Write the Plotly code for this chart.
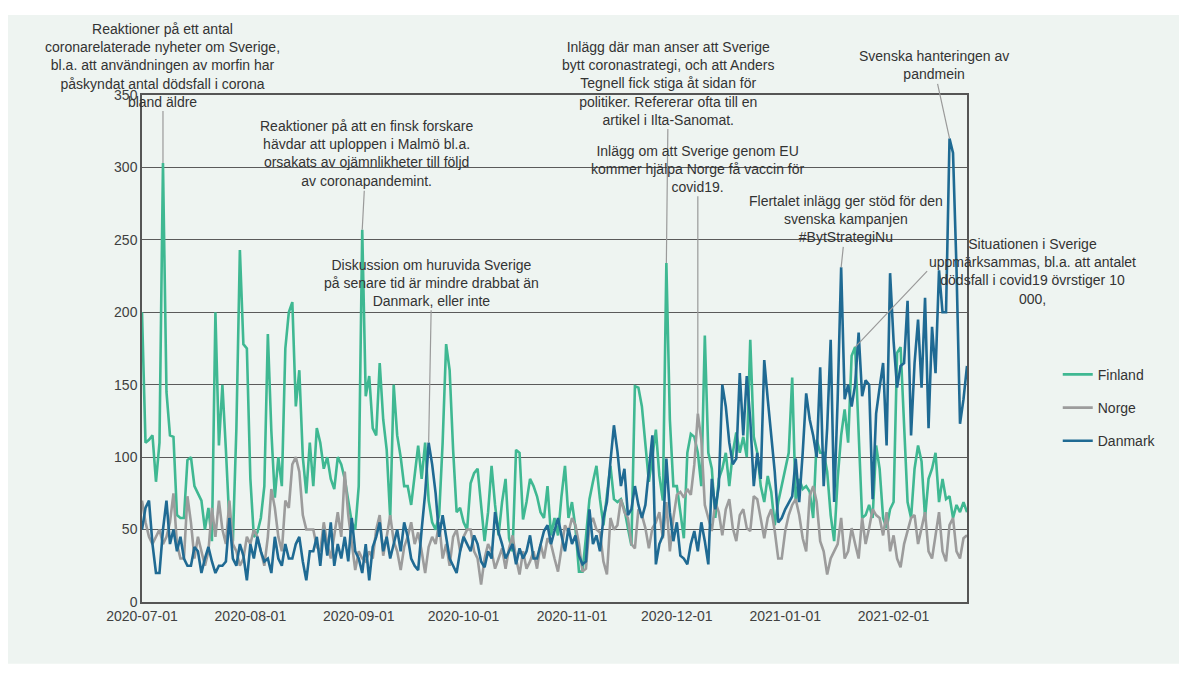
import pandas as pd
import plotly.graph_objects as go

START_DATE = "2020-07-01"

finland = [
    200, 110, 112, 115, 83, 110, 303, 145, 115, 114,
    60, 58, 58, 98, 100, 80, 75, 70, 50, 65,
    42, 200, 108, 150, 105, 55, 42, 120, 243, 178,
    175, 85, 45, 48, 58, 80, 185, 118, 72, 100,
    80, 175, 200, 207, 135, 160, 100, 75, 110,
    80, 120, 110, 92, 100, 85, 78, 100, 95, 85,
    70, 55, 50, 80, 257, 142, 156, 120, 115, 165,
    126, 105, 58, 150, 115, 100, 80, 80, 67, 88,
    108, 85, 110, 70, 55, 50, 60, 110, 178, 160,
    105, 62, 65, 55, 50,
    82, 89, 92, 69, 42, 62, 94, 67, 46, 69,
    85, 44, 35, 105, 103, 57, 69, 85, 80, 73,
    62, 58, 80, 46, 58, 46, 73, 94, 58, 69,
    51, 21, 21, 45, 71, 83, 94, 71, 53, 74,
    94, 71, 69, 71, 64, 51, 39,
    149, 148, 135, 108, 83, 100, 119, 87, 70, 234,
    126, 80, 80, 62, 44, 103, 116, 114, 103, 80,
    184, 103, 92, 58, 85, 92, 103, 80, 103, 117,
    103, 114, 100, 181, 114, 103, 80, 69, 87, 76,
    53, 69, 80, 92, 103, 155, 69, 85,
    78, 80, 76, 58, 112, 103, 103, 90, 60, 42,
    85, 115, 133, 110, 170, 176, 115, 58, 60, 67,
    58, 108, 92, 58, 51, 64, 69, 172, 176, 126,
    69, 58, 92, 108, 97, 58, 85, 92, 103, 69,
    85, 71, 73, 58, 67, 62, 69, 62,
]

norge = [
    70, 55, 45, 40, 45, 50, 40, 45, 55, 75,
    40, 30, 30, 73, 55, 30, 45, 35, 25, 35,
    65, 45, 70, 50, 40, 70, 40, 35, 25, 30,
    45, 40, 50, 45, 35, 25, 45, 78, 65, 45,
    35, 70, 65, 95, 100, 90, 60, 50, 50,
    50, 38, 35, 55, 40, 30, 45, 62, 45, 90,
    60, 40, 22, 35, 30, 28, 35, 30, 50, 60,
    32, 45, 60, 42, 35, 22, 38, 45, 55, 40,
    48, 35, 20, 38, 45, 40, 55, 30, 40, 25,
    45, 50, 35, 45, 50,
    50, 35, 30, 12, 30, 40, 35, 23, 30, 37,
    23, 37, 46, 30, 19, 35, 23, 28, 35, 23,
    40, 30, 44, 40, 30, 21, 37, 53, 48, 58,
    53, 40, 21, 23, 53, 58, 50, 48, 28, 19,
    58, 50, 53, 71, 62, 58, 40,
    37, 64, 60, 51, 37, 51, 55, 62, 44, 69,
    35, 58, 74, 76, 72, 78, 74, 95, 130, 112,
    67, 58, 49, 69, 62, 46, 64, 71, 51, 42,
    60, 64, 51, 49, 73, 71, 58, 44, 58, 64,
    49, 30, 30, 49, 60, 67, 71, 60,
    44, 35, 73, 80, 69, 42, 35, 19, 30, 35,
    40, 58, 30, 35, 51, 40, 30, 58, 40, 51,
    64, 60, 58, 46, 62, 35, 46, 30, 24, 40,
    49, 58, 60, 40, 51, 62, 35, 30, 46, 62,
    35, 28, 53, 58, 35, 30, 44, 46,
]

danmark = [
    50, 65, 70, 40, 20, 20, 50, 70, 40, 50,
    35, 45, 30, 25, 25, 38, 35, 20, 30, 38,
    28, 20, 25, 25, 28, 58, 30, 25, 40, 32,
    15, 40, 30, 45, 35, 28, 30, 20, 45, 30,
    25, 40, 30, 30, 40, 45, 28, 15, 35,
    35, 45, 25, 50, 32, 55, 25, 40, 30, 45,
    28, 58, 35, 30, 20, 40, 15, 38, 45, 55,
    35, 45, 30, 40, 50, 35, 55, 45, 30, 25,
    22, 50, 75, 110, 95, 75, 45, 60, 45, 30,
    25, 20, 35, 45, 40,
    35, 46, 40, 28, 24, 35, 30, 62, 48, 40,
    30, 35, 40, 26, 37, 30, 35, 46, 30, 30,
    40, 49, 53, 40, 49, 58, 46, 35, 51, 40,
    46, 32, 26, 28, 64, 40, 46, 35, 58, 69,
    97, 122, 104, 80, 92, 60, 64,
    80, 67, 58, 67, 90, 115, 26, 40, 46, 99,
    62, 42, 55, 32, 30, 26, 40, 49, 35, 55,
    42, 26, 85, 64, 80, 150, 135, 110, 95, 99,
    158, 115, 156, 126, 80, 103, 85, 167, 140, 115,
    90, 55, 58, 64, 69, 73, 99, 69,
    103, 144, 126, 115, 100, 162, 80, 120, 181, 69,
    140, 231, 140, 150, 135, 150, 186, 142, 153, 150,
    71, 130, 148, 165, 108, 227, 180, 148, 163, 165,
    208, 115, 165, 195, 148, 210, 120, 190, 158, 229,
    200, 200, 320, 310, 230, 123, 140, 163,
]

x_ticks = ["2020-07-01", "2020-08-01", "2020-09-01", "2020-10-01",
           "2020-11-01", "2020-12-01", "2021-01-01", "2021-02-01"]
y_ticks = [0, 50, 100, 150, 200, 250, 300, 350]

# (text, serie, dag-index, ax, ay, xanchor)
kommentarer = [
    ("Reaktioner på ett antal<br>coronarelaterade nyheter om Sverige,<br>"
     "bl.a. att användningen av morfin har<br>påskyndat antal dödsfall i corona<br>bland äldre",
     "finland", 6, 0, -98, "auto"),
    ("Reaktioner på att en finsk forskare<br>hävdar att uploppen i Malmö bl.a.<br>"
     "orsakats av ojämnlikheter till följd<br>av coronapandemint.",
     "finland", 63, 4, -76, "auto"),
    ("Diskussion om huruvida Sverige<br>på senare tid är mindre drabbat än<br>Danmark, eller inte",
     "danmark", 82, 3, -160, "auto"),
    ("Inlägg där man anser att Sverige<br>bytt coronastrategi, och att Anders<br>"
     "Tegnell fick stiga åt sidan för<br>politiker. Refererar ofta till en<br>artikel i Ilta-Sanomat.",
     "finland", 150, 2, -180, "auto"),
    ("Inlägg om att Sverige genom EU<br>kommer hjälpa Norge få vaccin för<br>covid19.",
     "norge", 159, 0, -245, "auto"),
    ("Flertalet inlägg ger stöd för den<br>svenska kampanjen<br>#BytStrategiNu",
     "danmark", 200, 5, -48, "auto"),
    ("Svenska hanteringen av<br>pandmein",
     "danmark", 231, -16, -73, "auto"),
    ("Situationen i Sverige<br>uppmärksammas, bl.a. att antalet<br>dödsfall i covid19 övrstiger 10<br>000,",
     "finland", 204, 72, -76, "left"),
]

FARGER = {"Finland": "#3fb892", "Norge": "#9c9c9c", "Danmark": "#1f6a93"}
BAKGRUND = "#eef4f1"
TEXTFARG = "#333333"

dagar = pd.date_range(START_DATE, periods=len(finland), freq="D")
serier = {"finland": finland, "norge": norge, "danmark": danmark}

fig = go.Figure()
for namn, data in [("Finland", finland), ("Norge", norge), ("Danmark", danmark)]:
    fig.add_trace(go.Scatter(
        x=dagar, y=data, mode="lines", name=namn, legendgroup=namn,
        line=dict(color=FARGER[namn], width=2.6),
    ))

for text, serie, dag, ax, ay, xanchor in kommentarer:
    fig.add_annotation(
        x=dagar[dag], y=serier[serie][dag], text=text,
        showarrow=True, arrowhead=0, arrowwidth=1.2, arrowcolor="#9a9a9a",
        ax=ax, ay=ay, align="center", xanchor=xanchor,
        font=dict(family="Liberation Sans, Arial", size=14, color=TEXTFARG),
    )

# ljus panel bakom hela diagrammet
fig.add_shape(type="rect", xref="paper", yref="paper",
              x0=-0.163, x1=1.258, y0=-0.122, y1=1.158,
              fillcolor=BAKGRUND, line_width=0, layer="below")

# sidan har 8 px marginal i webbläsaren, därför mindre l/t
fig.update_layout(
    width=1179, height=669,
    margin=dict(l=134, r=220, t=87, b=75),
    paper_bgcolor="white", plot_bgcolor="rgba(0,0,0,0)",
    font=dict(family="Liberation Sans, Arial", size=14, color="#404040"),
    showlegend=True,
    legend=dict(x=1.11, y=0.383, xanchor="left", yanchor="middle",
                bgcolor="rgba(0,0,0,0)", tracegroupgap=12,
                font=dict(size=14, color=TEXTFARG)),
    xaxis=dict(
        range=[dagar[0], dagar[-1]], tickvals=x_ticks, ticktext=x_ticks,
        showgrid=False, showline=True, linecolor="#555555", linewidth=1.5,
        mirror=True, ticks="", zeroline=False,
    ),
    yaxis=dict(
        range=[0, 350], tickvals=y_ticks, showgrid=True, gridcolor="#5a5a5a",
        gridwidth=1, showline=True, linecolor="#555555", linewidth=1.5,
        mirror=True, ticks="", zeroline=False,
    ),
)

fig.write_html("out.html")
